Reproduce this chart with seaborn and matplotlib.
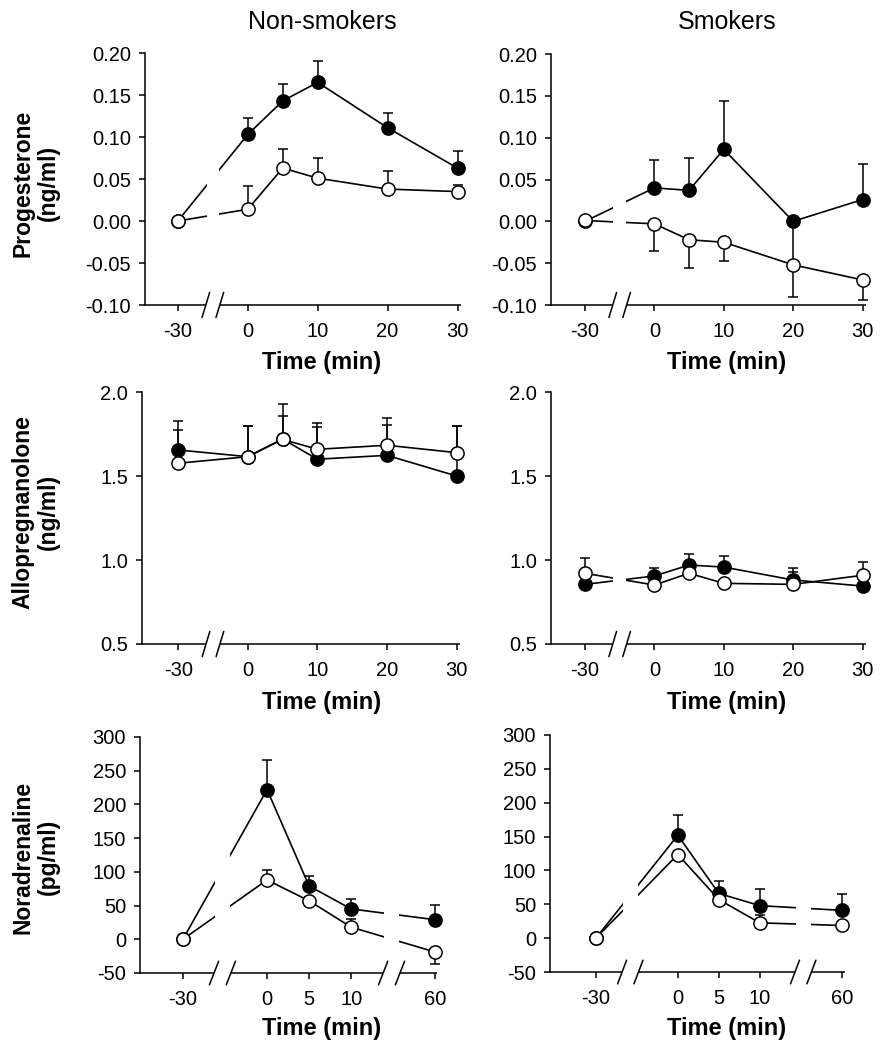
import matplotlib
matplotlib.use("Agg")
import matplotlib.pyplot as plt
import seaborn as sns
import numpy as np

# sampling times (min)
times = [-30, 0, 5, 10, 20, 30]
times_na = [-30, 0, 5, 10, 60]
ticks_top = [-30, 0, 10, 20, 30]
ticks_na = [-30, 0, 5, 10, 60]

# plotted position of each time on the broken axis
pos_top = {-30: -10, 0: 0, 5: 5, 10: 10, 20: 20, 30: 30}
pos_na = {-30: -10, 0: 0, 5: 5, 10: 10, 60: 20}

# progesterone (ng/ml)
prog_ns_filled = [0.0, 0.103, 0.143, 0.165, 0.111, 0.063]
prog_ns_filled_up = [0, 0.020, 0.020, 0.026, 0.018, 0.020]
prog_ns_filled_dn = [0, 0, 0, 0, 0, 0]
prog_ns_open = [0.0, 0.014, 0.063, 0.051, 0.038, 0.035]
prog_ns_open_up = [0, 0.028, 0.023, 0.024, 0.022, 0.008]
prog_ns_open_dn = [0, 0, 0, 0, 0, 0]

prog_s_filled = [0.0, 0.040, 0.037, 0.086, 0.0, 0.026]
prog_s_filled_up = [0, 0.033, 0.039, 0.058, 0, 0.043]
prog_s_filled_dn = [0, 0, 0, 0, 0.050, 0]
prog_s_open = [0.001, -0.003, -0.022, -0.025, -0.052, -0.070]
prog_s_open_up = [0, 0, 0, 0, 0, 0]
prog_s_open_dn = [0, 0.033, 0.034, 0.022, 0.038, 0.024]

# allopregnanolone (ng/ml)
allo_ns_filled = [1.655, 1.615, 1.72, 1.60, 1.623, 1.50]
allo_ns_filled_up = [0.17, 0.18, 0.21, 0.19, 0.18, 0.30]
allo_ns_filled_dn = [0, 0, 0, 0, 0, 0]
allo_ns_open = [1.576, 1.615, 1.718, 1.659, 1.683, 1.639]
allo_ns_open_up = [0.20, 0.18, 0.14, 0.155, 0.165, 0.16]
allo_ns_open_dn = [0, 0, 0, 0, 0, 0]

allo_s_filled = [0.855, 0.905, 0.97, 0.958, 0.881, 0.845]
allo_s_filled_up = [0, 0.045, 0.068, 0.066, 0.07, 0]
allo_s_filled_dn = [0, 0, 0, 0, 0, 0]
allo_s_open = [0.921, 0.851, 0.921, 0.861, 0.855, 0.909]
allo_s_open_up = [0.09, 0, 0, 0, 0.074, 0.08]
allo_s_open_dn = [0, 0, 0, 0, 0, 0]

# noradrenaline (pg/ml)
na_ns_filled = [0, 222, 79, 45, 29]
na_ns_filled_up = [0, 44, 15, 15, 22]
na_ns_filled_dn = [0, 0, 0, 0, 0]
na_ns_open = [0, 88, 57, 18, -19]
na_ns_open_up = [0, 15, 6, 12, 0]
na_ns_open_dn = [0, 0, 0, 0, 18]

na_s_filled = [0, 152, 66, 48, 41]
na_s_filled_up = [0, 30, 19, 24, 24]
na_s_filled_dn = [0, 0, 0, 0, 0]
na_s_open = [0, 123.5, 57, 22.6, 18.7]
na_s_open_up = [0, 0, 0, 12, 0]
na_s_open_dn = [0, 0, 0, 0, 0]

sns.set_style("ticks")
plt.rcParams["font.family"] = ["Liberation Sans", "DejaVu Sans"]
plt.rcParams["text.color"] = "black"
plt.rcParams["axes.labelcolor"] = "black"
plt.rcParams["xtick.color"] = "black"
plt.rcParams["ytick.color"] = "black"
plt.rcParams["axes.edgecolor"] = "black"

W, H = 890, 1050
fig = plt.figure(figsize=(W / 100, H / 100), dpi=100)


def add_axes_px(x0, x1, y0, y1):
    return fig.add_axes([x0 / W, 1 - y1 / H, (x1 - x0) / W, (y1 - y0) / H])


def draw_series(ax, pos, y, up, dn, face):
    ax.errorbar(pos, y, yerr=[dn, up], fmt="none", ecolor="black",
                elinewidth=1.1, capsize=3.3, capthick=1.1, zorder=1,
                clip_on=False)
    sns.lineplot(x=np.array(pos), y=np.array(y), ax=ax, color="black",
                 linewidth=1.2, marker="o", markersize=9.5,
                 markerfacecolor=face, markeredgecolor="black",
                 markeredgewidth=1.1, zorder=2, clip_on=False, errorbar=None)


def style_axis(ax, xlim, breaks, ylim, yticks, yfmt, xticks, posmap, gap):
    ax.set_xlim(*xlim)
    ax.set_ylim(*ylim)
    ax.set_yticks(yticks)
    ax.set_yticklabels([yfmt.format(v) for v in yticks])
    ax.set_xticks([posmap[t] for t in xticks])
    ax.set_xticklabels([str(t) for t in xticks])
    for s in ["top", "right", "bottom"]:
        ax.spines[s].set_visible(False)
    ax.spines["left"].set_linewidth(1.1)
    ax.tick_params(axis="both", direction="out", length=4, width=1.1,
                   labelsize=14.5, colors="black")
    ax.tick_params(axis="y", pad=6)
    ax.tick_params(axis="x", pad=8)
    ax.set_xlabel("")
    ax.set_ylabel("")
    tr = ax.get_xaxis_transform()
    # bottom axis drawn in pieces with gaps at the breaks
    edges = [xlim[0]]
    for b in breaks:
        edges += [b - 1.0, b + 1.0]
    edges.append(xlim[1])
    for a, b in zip(edges[0::2], edges[1::2]):
        ax.plot([a, b], [0, 0], transform=tr, color="black", lw=1.1,
                clip_on=False, zorder=3, solid_capstyle="butt")
    for b in breaks:
        if gap:
            ax.axvspan(b - 0.9, b + 0.9, color="white", zorder=2.5, lw=0)
        for c in (b - 1.0, b + 1.0):
            ax.plot([c - 0.55, c + 0.55], [-0.05, 0.05], transform=tr,
                    color="black", lw=1.1, clip_on=False, zorder=3)


def panel(box, posmap, tlist, xticks, filled, fu, fd, opn, ou, od, xlim,
          breaks, ylim, yticks, yfmt, gap=True):
    ax = add_axes_px(*box)
    pos = [posmap[t] for t in tlist]
    draw_series(ax, pos, filled, fu, fd, "black")
    draw_series(ax, pos, opn, ou, od, "white")
    style_axis(ax, xlim, breaks, ylim, yticks, yfmt, xticks, posmap, gap)
    return ax


prog_ticks = [-0.10, -0.05, 0.0, 0.05, 0.10, 0.15, 0.20]
allo_ticks = [0.5, 1.0, 1.5, 2.0]
na_ticks = [-50, 0, 50, 100, 150, 200, 250, 300]

panel((145, 461, 53, 305), pos_top, times, ticks_top, prog_ns_filled,
      prog_ns_filled_up, prog_ns_filled_dn, prog_ns_open, prog_ns_open_up,
      prog_ns_open_dn, (-14.7, 30.5), [-5], (-0.10, 0.20), prog_ticks, "{:.2f}")
panel((551, 866, 54, 305), pos_top, times, ticks_top, prog_s_filled,
      prog_s_filled_up, prog_s_filled_dn, prog_s_open, prog_s_open_up,
      prog_s_open_dn, (-14.9, 30.5), [-5], (-0.10, 0.20), prog_ticks, "{:.2f}")
panel((142, 460, 392, 644), pos_top, times, ticks_top, allo_ns_filled,
      allo_ns_filled_up, allo_ns_filled_dn, allo_ns_open, allo_ns_open_up,
      allo_ns_open_dn, (-15.2, 30.5), [-5], (0.5, 2.0), allo_ticks, "{:.1f}",
      gap=False)
panel((551, 866, 392, 644), pos_top, times, ticks_top, allo_s_filled,
      allo_s_filled_up, allo_s_filled_dn, allo_s_open, allo_s_open_up,
      allo_s_open_dn, (-14.9, 30.5), [-5], (0.5, 2.0), allo_ticks, "{:.1f}")
panel((140, 437, 737, 973), pos_na, times_na, ticks_na, na_ns_filled,
      na_ns_filled_up, na_ns_filled_dn, na_ns_open, na_ns_open_up,
      na_ns_open_dn, (-15.1, 20.2), [-5.3, 14.8], (-50, 300), na_ticks, "{:.0f}")
panel((550, 845, 735, 972), pos_na, times_na, ticks_na, na_s_filled,
      na_s_filled_up, na_s_filled_dn, na_s_open, na_s_open_up,
      na_s_open_dn, (-15.6, 20.4), [-5.8, 15.3], (-50, 300), na_ticks, "{:.0f}")

# column titles
fig.text(322 / W, 1 - 22 / H, "Non-smokers", ha="center", va="center", fontsize=18)
fig.text(727 / W, 1 - 22 / H, "Smokers", ha="center", va="center", fontsize=18)

# x labels
for yc in (362, 702, 1028):
    for xc in (322, 727):
        fig.text(xc / W, 1 - yc / H, "Time (min)", ha="center", va="center",
                 fontsize=17, fontweight="bold")

# row labels
rows = [("Progesterone\n(ng/ml)", 183), ("Allopregnanolone\n(ng/ml)", 512),
        ("Noradrenaline\n(pg/ml)", 857)]
for txt, yc in rows:
    fig.text(36 / W, 1 - yc / H, txt, ha="center", va="center", rotation=90,
             fontsize=16.5, fontweight="bold", multialignment="center",
             linespacing=1.15)

fig.savefig("out.png", dpi=100)
